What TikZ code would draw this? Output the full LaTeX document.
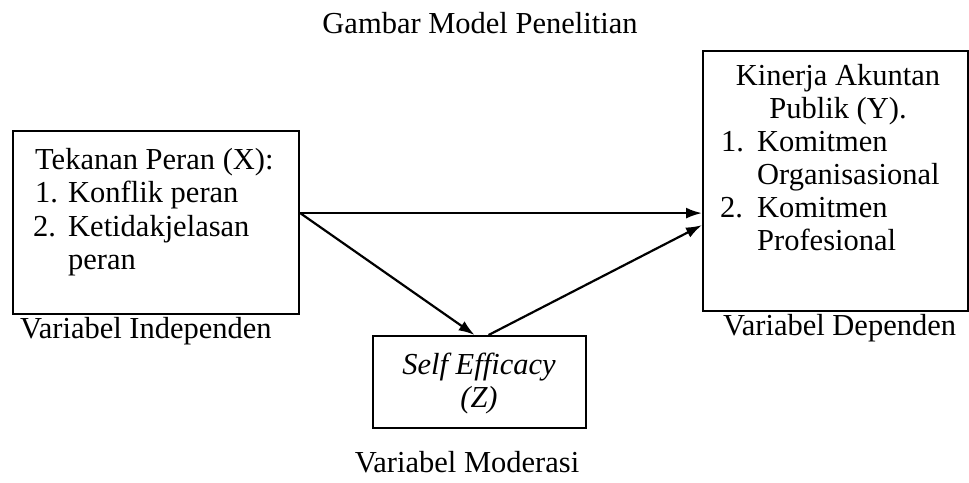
\documentclass[tikz,border=0pt]{standalone}
\usepackage{fontspec}
\setmainfont{Liberation Serif}
\usetikzlibrary{arrows.meta,calc}

\tikzset{
  frame/.style={draw, line width=2.2pt, inner sep=0pt, anchor=north west},
  txt/.style={inner sep=0pt, anchor=base west, font=\fontsize{30.5}{34}\selectfont},
  ctxt/.style={inner sep=0pt, anchor=base, font=\fontsize{30.5}{34}\selectfont},
  link/.style={line width=2.2pt, -{Latex[length=16pt,width=11pt]}},
}

\begin{document}
\begin{tikzpicture}[x=1pt, y=-1pt]
\useasboundingbox (0,0) rectangle (969,482);

% title
\node[ctxt] (title) at (480,33) {Gambar Model Penelitian};

% independent variable box
\node[frame, minimum width=286pt, minimum height=183pt] (X) at (12,130) {};
\node[txt] (x1) at (35,169) {Tekanan Peran (X):};
\node[txt] (x2n) at (35,202) {1.};
\node[txt] (x2) at (68,202) {Konflik peran};
\node[txt] (x3n) at (33,236) {2.};
\node[txt] (x3) at (68,236) {Ketidakjelasan};
\node[txt] (x4) at (68,269) {peran};
\node[txt] (xl) at (20,338) {Variabel Independen};

% dependent variable box
\node[frame, minimum width=265pt, minimum height=260pt] (Y) at (702,50) {};
\node[ctxt] (y1) at (838,85) {Kinerja Akuntan};
\node[ctxt] (y2) at (838,118) {Publik (Y).};
\node[txt] (y3n) at (721,151) {1.};
\node[txt] (y3) at (757,151) {Komitmen};
\node[txt] (y4) at (757,184) {Organisasional};
\node[txt] (y5n) at (720,217) {2.};
\node[txt] (y5) at (757,217) {Komitmen};
\node[txt] (y6) at (757,250) {Profesional};
\node[txt] (yl) at (723,335) {Variabel Dependen};

% moderating variable box
\node[frame, minimum width=213pt, minimum height=92pt] (Z) at (372,335) {};
\node[ctxt] (z1) at (479,374) {\itshape Self Efficacy};
\node[ctxt] (z2) at (479,407) {\itshape (Z)};
\node[ctxt] (zl) at (467,472) {Variabel Moderasi};

% connector end points
\coordinate (xo) at ([yshift=9.5pt]X.east);
\coordinate (ya) at ([yshift=-32pt]Y.west);
\coordinate (yb) at ([yshift=-44pt]Y.west);
\coordinate (za) at ([xshift=-5pt]Z.north);
\coordinate (zb) at ([xshift=9pt]Z.north);

\draw[link] (xo) -- (ya);
\draw[link] (xo) -- (za);
\draw[link] (zb) -- (yb);
\end{tikzpicture}
\end{document}
